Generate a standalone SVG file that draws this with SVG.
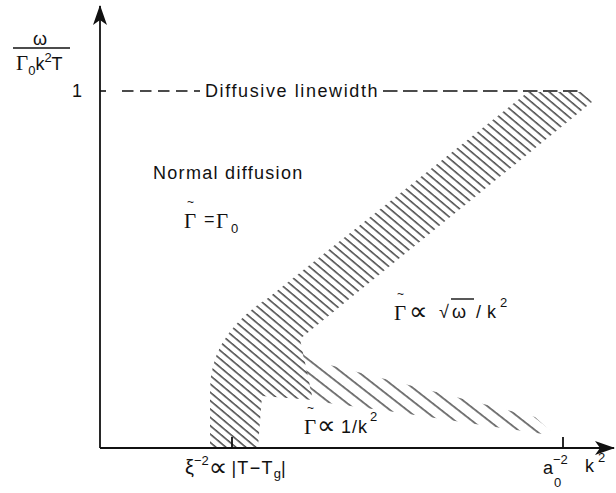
<svg xmlns="http://www.w3.org/2000/svg" width="616" height="493" viewBox="0 0 616 493">
<style>
.t{font-family:"Liberation Sans","DejaVu Sans",sans-serif;fill:#111;font-size:18px}
.p{font-family:"DejaVu Sans","Liberation Sans",sans-serif;fill:#111;font-size:26px}
.g{font-family:"Liberation Serif","DejaVu Serif",serif;fill:#111;font-size:21px}
.sm{font-size:13px}
.til{font-family:"Liberation Sans",sans-serif;fill:#111;font-size:12px}
.ax{stroke:#111;stroke-width:1.8;fill:none}
.dash{stroke:#111;stroke-width:1.6;fill:none}
</style>
<defs>
<pattern id="hd" patternUnits="userSpaceOnUse" width="6.4" height="20" patternTransform="rotate(-50)">
<line x1="1" y1="0" x2="1" y2="20" stroke="#000" stroke-width="1.1"/>
</pattern>
<pattern id="hs" patternUnits="userSpaceOnUse" width="10.5" height="20" patternTransform="rotate(-52)">
<line x1="1" y1="0" x2="1" y2="20" stroke="#000" stroke-width="1.05"/>
</pattern>
<marker id="arr" viewBox="0 0 20 14" refX="19" refY="7" markerWidth="20" markerHeight="14" markerUnits="userSpaceOnUse" orient="auto">
<path d="M0,0 L20,7 L0,14 L5,7 Z" fill="#111"/>
</marker>
</defs>

<g id="hatch">
<path d="M528,92 L583,92 L592,102 L300,339 L313,400 L262,396 L258,447 L210,447 L210,390 Q210,335 268,298 Z" fill="url(#hd)"/>
<path d="M300,341 Q305,358 318,362 L535,417 L556,436 L395,412 L313,401 Z" fill="url(#hs)"/>
</g>

<g id="connectors">
<line class="ax" x1="100" y1="448" x2="100" y2="6" marker-end="url(#arr)"/>
<line class="ax" x1="100" y1="448" x2="614" y2="448" marker-end="url(#arr)"/>
<line class="ax" x1="232" y1="448" x2="232" y2="437"/>
<line class="ax" x1="563" y1="448" x2="563" y2="437"/>
<line class="dash" x1="100" y1="91" x2="106" y2="91"/>
<line class="dash" x1="122" y1="91" x2="200" y2="91" stroke-dasharray="11.5 6.5"/>
<line class="dash" x1="383" y1="91" x2="580" y2="91" stroke-dasharray="14.5 5.5"/>
</g>

<g id="yaxis-label">
<text class="t" x="40" y="45" text-anchor="middle" font-size="20">ω</text>
<line x1="13" y1="48" x2="70" y2="48" stroke="#111" stroke-width="1.5"/>
<text class="t" x="16" y="70"><tspan class="g" font-size="20">Γ</tspan><tspan class="sm" dy="5">0</tspan><tspan dy="-5">k</tspan><tspan class="sm" dy="-8">2</tspan><tspan dy="8">T</tspan></text>
<text class="t" x="82" y="97" text-anchor="end">1</text>
</g>

<g id="diffusive-linewidth">
<text class="t" x="205" y="97" letter-spacing="1.6">Diffusive linewidth</text>
</g>

<g id="normal-diffusion">
<text class="t" x="153" y="179" letter-spacing="1.3">Normal diffusion</text>
<text class="g" x="184" y="228">Γ</text>
<text class="til" x="187" y="206">~</text>
<text class="t" x="204" y="225">=</text>
<text class="g" x="216" y="228">Γ</text>
<text class="t sm" x="231" y="233">0</text>
</g>

<g id="sqrt-label">
<text class="g" x="394" y="320">Γ</text>
<text class="til" x="397" y="298">~</text>
<text class="p" x="409" y="320">∝</text>
<text class="t" x="439" y="318" font-size="20">√</text>
<line x1="451" y1="299" x2="474" y2="299" stroke="#111" stroke-width="1.4"/>
<text class="t" x="452" y="318" font-size="20">ω</text>
<text class="t" x="476" y="318" font-size="20">/</text>
<text class="t" x="487" y="318">k</text>
<text class="t sm" x="500" y="307">2</text>
</g>

<g id="inv-k2-label">
<text class="g" x="304" y="434">Γ</text>
<text class="til" x="307" y="412">~</text>
<text class="p" x="317" y="434">∝</text>
<text class="t" x="341" y="433" font-size="19" letter-spacing="1">1/k</text>
<text class="t sm" x="370" y="421">2</text>
</g>

<g id="xaxis-labels">
<text class="t" x="185" y="474"><tspan font-size="20">ξ</tspan><tspan class="sm" dy="-9">−2</tspan><tspan class="p" dy="11">∝</tspan><tspan dx="4" dy="-2" letter-spacing="1.3">|T−T</tspan><tspan class="sm" dy="4">g</tspan><tspan dy="-4">|</tspan></text>
<text class="t" x="543" y="474">a</text>
<text class="t sm" x="553" y="464">−2</text>
<text class="t sm" x="554" y="487">0</text>
<text class="t" x="585" y="472">k</text>
<text class="t sm" x="598" y="462">2</text>
</g>
</svg>
